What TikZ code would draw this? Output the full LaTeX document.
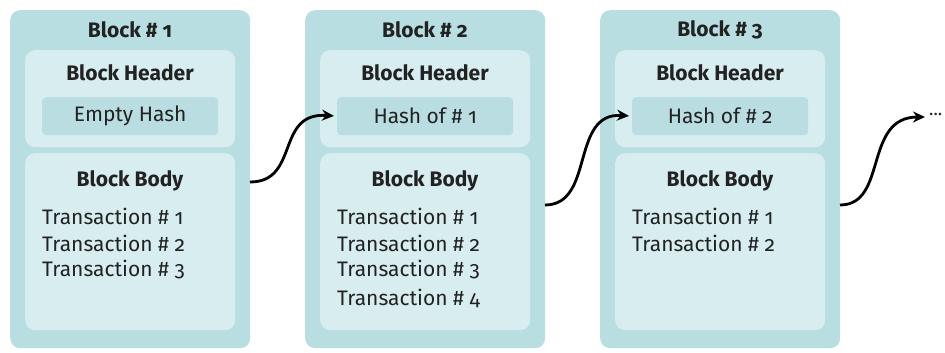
\documentclass[tikz,border=0pt]{standalone}
\usepackage{fontspec}
\setmainfont{Fira Sans}[Numbers=OldStyle]
\usetikzlibrary{arrows.meta}
\definecolor{outerc}{RGB}{184,222,226}
\definecolor{innerc}{RGB}{215,237,240}
\definecolor{hashc}{RGB}{186,221,226}
\definecolor{inkc}{RGB}{34,34,34}
\tikzset{
  outerbox/.style={fill=outerc,rounded corners=10pt,minimum width=240pt,minimum height=338pt,inner sep=0pt,anchor=north west},
  innerbox/.style={fill=innerc,rounded corners=10pt,minimum width=210pt,inner sep=0pt,anchor=north west},
  hashbox/.style={fill=hashc,rounded corners=4pt,minimum width=176pt,minimum height=38pt,inner sep=0pt,anchor=north west,font=\fontsize{21}{24}\selectfont,text=inkc},
  titletxt/.style={font=\fontsize{21}{24}\selectfont\bfseries,text=inkc},
  txline/.style={font=\fontsize{21}{24}\selectfont,text=inkc,anchor=west,inner sep=0pt},
  linkarrow/.style={line width=2.8pt,-{Stealth[length=12pt,width=11pt]},shorten >=4pt}
}
\begin{document}
\begin{tikzpicture}[x=1pt,y=-1pt]
\useasboundingbox (0,0) rectangle (945,353);

% Block 1
\node[outerbox] (b1) at (10,10) {};
\node[innerbox,minimum height=97pt] (b1h) at (25,50) {};
\node[innerbox,minimum height=177pt] (b1b) at (25,153) {};
\node[hashbox] (b1hash) at (42,97) {Empty Hash};
\node[titletxt] (b1t) at (130,30) {Block \# 1};
\node[titletxt] (b1ht) at (130,73) {Block Header};
\node[titletxt] (b1bt) at (130,181) {Block Body};
\node[txline] (b1x1) at (42,216) {Transaction \# 1};
\node[txline] (b1x2) at (42,243) {Transaction \# 2};
\node[txline] (b1x3) at (42,270) {Transaction \# 3};

% Block 2
\node[outerbox] (b2) at (305,10) {};
\node[innerbox,minimum height=97pt] (b2h) at (320,50) {};
\node[innerbox,minimum height=177pt] (b2b) at (320,153) {};
\node[hashbox] (b2hash) at (337,97) {Hash of \# 1};
\node[titletxt] (b2t) at (425,30) {Block \# 2};
\node[titletxt] (b2ht) at (425,73) {Block Header};
\node[titletxt] (b2bt) at (425,181) {Block Body};
\node[txline] (b2x1) at (337,216) {Transaction \# 1};
\node[txline] (b2x2) at (337,243) {Transaction \# 2};
\node[txline] (b2x3) at (337,270) {Transaction \# 3};
\node[txline] (b2x4) at (337,298) {Transaction \# 4};

% Block 3
\node[outerbox] (b3) at (600,10) {};
\node[innerbox,minimum height=97pt] (b3h) at (615,50) {};
\node[innerbox,minimum height=177pt] (b3b) at (615,153) {};
\node[hashbox] (b3hash) at (632,97) {Hash of \# 2};
\node[titletxt] (b3t) at (720,30) {Block \# 3};
\node[titletxt] (b3ht) at (720,73) {Block Header};
\node[titletxt] (b3bt) at (720,181) {Block Body};
\node[txline] (b3x1) at (632,216) {Transaction \# 1};
\node[txline] (b3x2) at (632,243) {Transaction \# 2};

% Continuation mark
\node[font=\fontsize{18}{20}\selectfont,text=inkc,anchor=west,inner sep=0pt] (more) at (929,114) {...};
\coordinate (next) at (925,117);

% Links between blocks
\coordinate (s1) at (250,182);
\coordinate (s2) at (545,205);
\coordinate (s3) at (840,205);
\draw[linkarrow] (s1) .. controls (300,182) and (275,112) .. ([xshift=1pt]b2hash.west);
\draw[linkarrow] (s2) .. controls (595,205) and (570,112) .. ([xshift=1pt]b3hash.west);
\draw[linkarrow,shorten >=0pt] (s3) .. controls (888,205) and (863,117) .. (next);
\end{tikzpicture}
\end{document}
